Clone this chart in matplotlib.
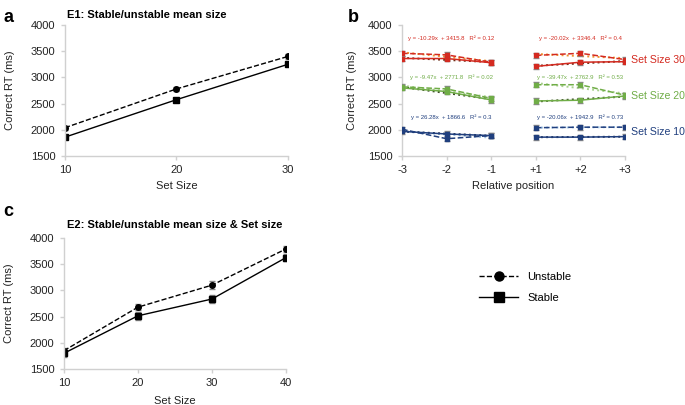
import numpy as np
import matplotlib
matplotlib.use("Agg")
import matplotlib.pyplot as plt
from matplotlib.lines import Line2D

plt.rcParams['font.family'] = ['Liberation Sans', 'DejaVu Sans']

# panel a: E1
set_size_a = [10, 20, 30]
a_unstable = [2040, 2780, 3400]
a_unstable_err = [35, 40, 40]
a_stable = [1860, 2575, 3250]
a_stable_err = [40, 35, 40]

# panel b: relative position
positions = ['-3', '-2', '-1', '+1', '+2', '+3']
groups = ['Set Size 30', 'Set Size 20', 'Set Size 10']
b_unstable = {
    'Set Size 30': [3460, 3430, 3290, 3420, 3460, 3340],
    'Set Size 20': [2820, 2780, 2600, 2860, 2860, 2660],
    'Set Size 10': [2010, 1830, 1890, 2040, 2050, 2050],
}
b_stable = {
    'Set Size 30': [3360, 3360, 3280, 3210, 3290, 3300],
    'Set Size 20': [2800, 2730, 2570, 2550, 2565, 2645],
    'Set Size 10': [1970, 1920, 1890, 1860, 1860, 1870],
}
b_err = 50
equations = {
    'Set Size 30': ['y = -10.29x  + 3415.8   R² = 0.12', 'y = -20.02x  + 3346.4   R² = 0.4'],
    'Set Size 20': ['y = -9.47x  + 2771.8   R² = 0.02', 'y = -39.47x  + 2762.9   R² = 0.53'],
    'Set Size 10': ['y = 26.28x  + 1866.6   R² = 0.3', 'y = -20.06x  + 1942.9   R² = 0.73'],
}
eq_y = {'Set Size 30': 3750, 'Set Size 20': 3010, 'Set Size 10': 2235}
label_y = {'Set Size 30': 3330, 'Set Size 20': 2640, 'Set Size 10': 1960}
colors = {'Set Size 30': '#d42a20', 'Set Size 20': '#70ad47', 'Set Size 10': '#203f7e'}
trend_light = {'Set Size 30': '#f0902c', 'Set Size 20': '#a9d18e', 'Set Size 10': '#9dc3e6'}
trend_dark = {'Set Size 30': '#6b2a14', 'Set Size 20': '#3b4a26', 'Set Size 10': '#1c2a4a'}

# panel c: E2
set_size_c = [10, 20, 30, 40]
c_unstable = [1850, 2680, 3100, 3790]
c_unstable_err = [60, 60, 70, 60]
c_stable = [1800, 2515, 2835, 3625]
c_stable_err = [70, 80, 80, 70]

grey = '#d0d0d0'
fs = 8


def style_axes(ax, lpad):
    for s in ['top', 'right']:
        ax.spines[s].set_visible(False)
    for s in ['left', 'bottom']:
        ax.spines[s].set_color(grey)
        ax.spines[s].set_linewidth(1)
    ax.tick_params(colors=grey, labelcolor='#222222', labelsize=fs, length=3, width=1)
    ax.tick_params(axis='y', pad=4)
    ax.set_ylim(1500, 4000)
    ax.set_yticks([1500, 2000, 2500, 3000, 3500, 4000])
    ax.set_ylabel('Correct RT (ms)', fontsize=fs, color='#222222', labelpad=lpad)


def draw_pair(ax, x, u, ue, s, se):
    ax.errorbar(x, u, yerr=ue, color='black', ls='--', lw=1, marker='o', ms=4,
                ecolor='#888888', elinewidth=1, capsize=2)
    ax.errorbar(x, s, yerr=se, color='black', ls='-', lw=1, marker='s', ms=4,
                ecolor='#888888', elinewidth=1, capsize=2)


fig = plt.figure(figsize=(6.85, 4.05), dpi=100)

# ---- a
ax_a = fig.add_axes([0.0949, 0.6148, 0.3255, 0.3235])
draw_pair(ax_a, set_size_a, a_unstable, a_unstable_err, a_stable, a_stable_err)
style_axes(ax_a, 11)
ax_a.set_xlim(10, 30)
ax_a.set_xticks(set_size_a)
ax_a.set_xlabel('Set Size', fontsize=fs, color='#222222', labelpad=4)
ax_a.text(0.368, 1.04, 'E1: Stable/unstable mean size', transform=ax_a.transAxes,
          fontsize=fs, fontweight='bold', ha='center', va='bottom')
fig.text(0.005, 0.978, 'a', fontsize=13, fontweight='bold', va='top')

# ---- b
ax_b = fig.add_axes([0.5869, 0.6148, 0.3255, 0.3235])
xi = np.arange(len(positions))
halves = [slice(0, 3), slice(3, 6)]
for g in groups:
    col = colors[g]
    for k, h in enumerate(halves):
        xs = xi[h]
        u = np.array(b_unstable[g])[h]
        s = np.array(b_stable[g])[h]
        # trend lines
        for vals, tc in [(u, trend_light[g]), (s, trend_dark[g])]:
            m, c = np.polyfit(xs, vals, 1)
            ax_b.plot(xs, m * xs + c, ls=':', color=tc, lw=1.4, zorder=1)
        ax_b.errorbar(xs, u, yerr=b_err, color=col, ls='--', lw=1.1, marker='s', ms=3.5,
                      ecolor='#888888', elinewidth=1, capsize=2, zorder=3)
        ax_b.errorbar(xs, s, yerr=b_err, color=col, ls='-', lw=1.1, marker='s', ms=3.5,
                      ecolor='#888888', elinewidth=1, capsize=2, zorder=3)
        ax_b.text(1.1 if k == 0 else 4, eq_y[g], equations[g][k], fontsize=4.3,
                  color=col, ha='center', va='center')
    ax_b.text(5.13, label_y[g], g, fontsize=7.6, color=col, va='center', ha='left')
style_axes(ax_b, 8)
ax_b.set_xlim(0, 5)
ax_b.set_xticks(xi)
ax_b.set_xticklabels(positions)
ax_b.set_xlabel('Relative position', fontsize=fs, color='#222222', labelpad=4)
fig.text(0.508, 0.978, 'b', fontsize=13, fontweight='bold', va='top')

# ---- c
ax_c = fig.add_axes([0.0934, 0.0889, 0.324, 0.3235])
draw_pair(ax_c, set_size_c, c_unstable, c_unstable_err, c_stable, c_stable_err)
style_axes(ax_c, 11)
ax_c.set_xlim(10, 40)
ax_c.set_xticks(set_size_c)
ax_c.set_xlabel('Set Size', fontsize=fs, color='#222222', labelpad=6)
ax_c.set_title('E2: Stable/unstable mean size & Set size', fontsize=fs, fontweight='bold', pad=7)
fig.text(0.005, 0.498, 'c', fontsize=13, fontweight='bold', va='top')

# legend
handles = [Line2D([], [], color='black', ls='--', lw=1, marker='o', ms=6.5),
           Line2D([], [], color='black', ls='-', lw=1, marker='s', ms=6.5)]
fig.legend(handles, ['Unstable', 'Stable'], loc='center left',
           bbox_to_anchor=(0.685, 0.29), frameon=False, fontsize=fs,
           handlelength=3.5, labelspacing=1.0)

fig.savefig('out.png', dpi=100)
